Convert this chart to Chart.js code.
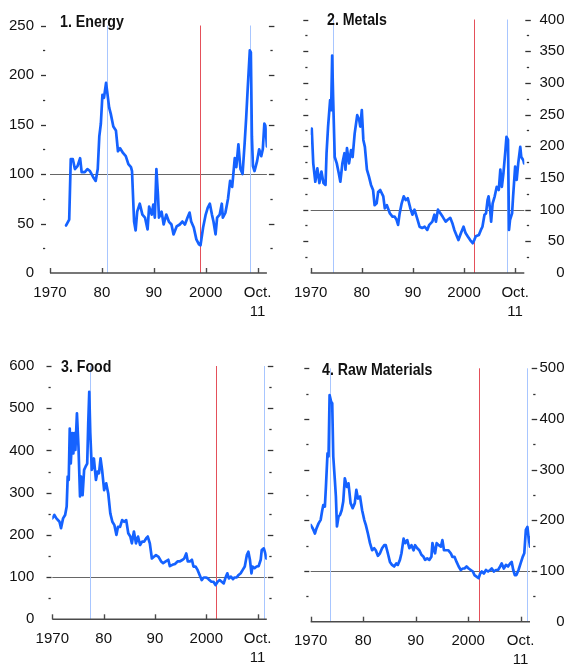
<!DOCTYPE html>
<html>
<head>
<meta charset="utf-8">
<script src="https://cdn.jsdelivr.net/npm/chart.js@4.4.1/dist/chart.umd.min.js"></script>
<style>
  html, body { margin: 0; padding: 0; background: #fff; }
  #wrap { position: relative; width: 565px; height: 664px; overflow: hidden; }
  #wrap canvas { position: absolute; }
  .title {
    position: absolute;
    font-family: "Liberation Sans", Arial, sans-serif;
    font-weight: bold;
    font-size: 16.5px;
    line-height: 1;
    color: #111;
    white-space: nowrap;
    transform: scaleX(0.86);
    transform-origin: 0 0;
  }
</style>
</head>
<body>
<div id="wrap">
  <canvas id="energyChart" width="282" height="332" style="left:0;top:0"></canvas>
  <canvas id="metalsChart" width="283" height="332" style="left:282px;top:0"></canvas>
  <canvas id="foodChart" width="282" height="332" style="left:0;top:332px"></canvas>
  <canvas id="rawChart" width="283" height="332" style="left:282px;top:332px"></canvas>
  <div class="title" style="left:60px;top:13px">1. Energy</div>
  <div class="title" style="left:327px;top:11px">2. Metals</div>
  <div class="title" style="left:61px;top:358px">3. Food</div>
  <div class="title" style="left:322px;top:361px">4. Raw Materials</div>
</div>
<script>
// x axis (years), shared by all four panels
const X_START = 1970;
const X_END = 2011.79; // Oct. 2011
const xTickValues = [1970, 1980, 1990, 2000, 2010];
const xTickLabels = ["1970", "80", "90", "2000", ["Oct.", "11"]];
const REFERENCE_LEVEL = 100;

// 1. Energy
const energyYears = [
    1973.1, 1973.7, 1974.0, 1974.4, 1974.8, 1975.3, 1975.8, 1976.1, 1976.7, 1977.2,
    1977.7, 1978.3, 1978.8, 1979.2, 1979.5, 1979.8, 1980.1, 1980.4, 1980.8, 1981.0,
    1981.4, 1981.7, 1982.2, 1982.7, 1983.1, 1983.5, 1984.1, 1984.6, 1985.1, 1985.6,
    1985.8, 1986.2, 1986.5, 1986.8, 1987.3, 1987.8, 1988.3, 1988.8, 1989.1, 1989.6,
    1989.9, 1990.2, 1990.5, 1990.8, 1991.0, 1991.5, 1991.9, 1992.4, 1992.9, 1993.4,
    1993.8, 1994.4, 1995.0, 1995.5, 1996.0, 1996.5, 1996.9, 1997.2, 1997.7, 1998.2,
    1998.7, 1999.0, 1999.5, 2000.0, 2000.4, 2000.8, 2001.2, 2001.5, 2001.9, 2002.2,
    2002.7, 2003.1, 2003.3, 2003.8, 2004.3, 2004.7, 2005.1, 2005.6, 2005.9, 2006.3,
    2006.7, 2007.1, 2007.5, 2007.8, 2008.1, 2008.5, 2008.7, 2008.9, 2009.1, 2009.4,
    2009.9, 2010.3, 2010.7, 2011.0, 2011.3, 2011.5, 2011.8
];
const energyValues = [
    48, 54, 115, 115, 105, 108, 116, 102, 102, 105,
    103, 97, 93, 105, 138, 151, 180, 177, 192, 184,
    167, 161, 148, 144, 123, 126, 121, 118, 110, 107,
    103, 52, 43, 62, 70, 59, 56, 44, 67, 59,
    69, 56, 105, 79, 56, 62, 49, 59, 52, 49,
    39, 47, 49, 52, 49, 56, 61, 52, 46, 34,
    29, 28, 46, 59, 66, 70, 59, 52, 39, 56,
    59, 70, 56, 61, 75, 93, 87, 116, 107, 130,
    105, 100, 131, 157, 187, 225, 223, 138, 108, 103,
    113, 125, 118, 125, 151, 149, 128
];
const energyPeaks = [1981.0, 2008.55];
const energyTroughs = [1998.95];

// 2. Metals
const metalsYears = [
    1970.0, 1970.2, 1970.5, 1970.9, 1971.3, 1971.7, 1972.1, 1972.5, 1972.9, 1973.1,
    1973.4, 1973.8, 1974.0, 1974.2, 1974.4, 1974.7, 1975.1, 1975.5, 1975.8, 1976.2,
    1976.6, 1976.8, 1977.1, 1977.5, 1977.9, 1978.2, 1978.6, 1979.1, 1979.5, 1979.7,
    1980.0, 1980.3, 1980.6, 1981.0, 1981.4, 1981.8, 1982.2, 1982.5, 1982.9, 1983.2,
    1983.6, 1984.2, 1984.5, 1984.9, 1985.5, 1986.0, 1986.4, 1986.8, 1987.1, 1987.4,
    1987.8, 1988.2, 1988.6, 1989.0, 1989.5, 1989.9, 1990.3, 1990.8, 1991.3, 1991.8,
    1992.3, 1992.8, 1993.2, 1993.8, 1994.2, 1994.5, 1994.9, 1995.4, 1995.8, 1996.4,
    1996.8, 1997.3, 1997.7, 1998.1, 1998.6, 1998.9, 1999.4, 1999.9, 2000.3, 2000.7,
    2001.2, 2001.7, 2002.0, 2002.3, 2002.9, 2003.3, 2003.6, 2004.0, 2004.3, 2004.6,
    2004.8, 2005.1, 2005.3, 2005.6, 2006.0, 2006.4, 2006.8, 2007.1, 2007.4, 2007.7,
    2008.1, 2008.3, 2008.6, 2008.8, 2009.0, 2009.4, 2009.6, 2010.0, 2010.3, 2010.6,
    2011.0, 2011.2, 2011.6, 2011.75
];
const metalsValues = [
    220, 228, 173, 144, 165, 142, 160, 142, 139, 189,
    231, 273, 257, 343, 273, 183, 173, 157, 144, 173,
    189, 163, 197, 173, 194, 183, 220, 249, 241, 231,
    257, 210, 199, 163, 152, 139, 131, 107, 110, 128,
    131, 121, 102, 107, 94, 89, 89, 84, 76, 94,
    110, 121, 115, 118, 102, 92, 100, 87, 73, 71,
    73, 68, 76, 81, 92, 81, 100, 94, 89, 81,
    84, 87, 79, 68, 58, 52, 63, 73, 63, 58,
    52, 47, 52, 58, 60, 68, 73, 92, 94, 115,
    121, 100, 81, 110, 121, 136, 131, 163, 136, 157,
    194, 215, 210, 68, 84, 94, 121, 168, 147, 173,
    199, 183, 178, 173
];
const metalsPeaks = [1974.3, 2008.45];
const metalsTroughs = [2002.0];

// 3. Food
const foodYears = [
    1970.0, 1970.4, 1970.8, 1971.4, 1971.7, 1972.1, 1972.5, 1972.8, 1973.0, 1973.2,
    1973.4, 1973.6, 1973.9, 1974.1, 1974.3, 1974.5, 1974.8, 1975.1, 1975.4, 1975.6,
    1975.9, 1976.2, 1976.5, 1976.8, 1977.0, 1977.2, 1977.4, 1977.7, 1978.1, 1978.5,
    1978.8, 1979.1, 1979.4, 1979.7, 1980.1, 1980.5, 1980.9, 1981.3, 1981.7, 1982.1,
    1982.5, 1982.8, 1983.2, 1983.6, 1984.0, 1984.4, 1984.8, 1985.2, 1985.5, 1985.9,
    1986.3, 1986.7, 1987.1, 1987.5, 1987.9, 1988.3, 1988.6, 1989.0, 1989.4, 1989.8,
    1990.2, 1990.7, 1991.2, 1991.6, 1992.1, 1992.6, 1992.9, 1993.4, 1993.9, 1994.4,
    1994.8, 1995.4, 1995.7, 1996.1, 1996.4, 1996.8, 1997.2, 1997.5, 1997.9, 1998.3,
    1998.7, 1999.1, 1999.5, 1999.9, 2000.3, 2000.6, 2001.0, 2001.4, 2001.8, 2002.2,
    2002.6, 2003.0, 2003.4, 2003.7, 2004.1, 2004.4, 2004.8, 2005.2, 2005.5, 2005.9,
    2006.3, 2006.7, 2007.1, 2007.5, 2007.9, 2008.2, 2008.5, 2008.8, 2009.0, 2009.4,
    2009.8, 2010.2, 2010.6, 2010.8, 2011.2, 2011.5, 2011.7
];
const foodValues = [
    239, 247, 239, 231, 216, 239, 247, 267, 338, 330,
    452, 369, 441, 393, 441, 401, 488, 409, 291, 338,
    294, 354, 362, 369, 464, 539, 441, 354, 381, 330,
    350, 346, 381, 354, 306, 322, 298, 251, 231, 223,
    200, 219, 219, 235, 231, 235, 204, 196, 180, 208,
    180, 196, 176, 184, 184, 192, 196, 180, 144, 148,
    152, 148, 137, 133, 137, 141, 126, 129, 131, 137,
    137, 141, 144, 156, 137, 137, 141, 125, 125, 117,
    105, 93, 99, 99, 97, 93, 89, 89, 81, 89,
    93, 89, 85, 97, 109, 97, 101, 95, 99, 99,
    105, 109, 117, 125, 152, 160, 141, 109, 125, 121,
    125, 126, 141, 164, 168, 156, 144
];
const foodPeaks = [1977.3, 2011.2];
const foodTroughs = [2001.95];

// 4. Raw Materials
const rawYears = [
    1970.0, 1970.4, 1970.8, 1971.1, 1971.5, 1971.9, 1972.2, 1972.4, 1972.7, 1972.9,
    1973.2, 1973.4, 1973.6, 1973.9, 1974.1, 1974.3, 1974.6, 1974.8, 1975.0, 1975.3,
    1975.6, 1975.9, 1976.2, 1976.5, 1976.9, 1977.2, 1977.6, 1978.0, 1978.4, 1978.7,
    1979.0, 1979.4, 1979.8, 1980.2, 1980.5, 1980.9, 1981.3, 1981.7, 1982.1, 1982.4,
    1982.8, 1983.2, 1983.6, 1984.0, 1984.3, 1984.7, 1985.1, 1985.5, 1985.9, 1986.3,
    1986.6, 1987.0, 1987.3, 1987.7, 1988.0, 1988.4, 1988.8, 1989.2, 1989.6, 1989.9,
    1990.3, 1990.7, 1991.1, 1991.5, 1991.8, 1992.2, 1992.6, 1993.0, 1993.2, 1993.5,
    1993.7, 1994.0, 1994.4, 1994.8, 1995.1, 1995.4, 1995.8, 1996.2, 1996.7, 1997.0,
    1997.4, 1997.8, 1998.2, 1998.6, 1999.0, 1999.3, 1999.7, 2000.1, 2000.5, 2000.9,
    2001.2, 2001.6, 2002.0, 2002.3, 2002.6, 2003.0, 2003.4, 2003.8, 2004.2, 2004.5,
    2004.9, 2005.3, 2005.7, 2006.1, 2006.4, 2006.8, 2007.2, 2007.6, 2008.0, 2008.3,
    2008.6, 2008.9, 2009.2, 2009.6, 2010.0, 2010.4, 2010.7, 2011.0, 2011.3, 2011.5,
    2011.8
];
const rawValues = [
    191, 184, 174, 184, 194, 201, 220, 230, 227, 266,
    332, 326, 447, 434, 431, 326, 280, 247, 188, 207,
    211, 220, 237, 283, 266, 273, 234, 224, 234, 260,
    243, 247, 220, 201, 191, 174, 155, 141, 145, 141,
    130, 135, 145, 151, 151, 135, 118, 112, 109, 115,
    112, 122, 135, 164, 155, 161, 145, 151, 141, 151,
    145, 141, 132, 128, 122, 125, 122, 128, 155, 141,
    135, 155, 151, 148, 161, 141, 141, 141, 135, 128,
    128, 118, 109, 102, 105, 105, 109, 105, 102, 99,
    92, 89, 86, 95, 99, 95, 102, 99, 102, 105,
    99, 102, 102, 109, 115, 105, 112, 109, 115, 118,
    102, 92, 92, 102, 115, 128, 135, 181, 187, 168,
    148
];
const rawPeaks = [1973.68, 2011.16];
const rawTroughs = [2002.1];

const LINE_BLUE = "#1562ff";
const PEAK_BLUE = "#a8c6ff";
const TROUGH_RED = "#e4505a";
const AXIS_GREY = "#4a4a4a";
const REF_GREY = "#666666";
const FONT_FAMILY = '"Liberation Sans", Arial, sans-serif';

function strokeLine(ctx, x1, y1, x2, y2) {
    ctx.beginPath();
    ctx.moveTo(x1, y1);
    ctx.lineTo(x2, y2);
    ctx.stroke();
}

// reference line, peak / trough markers, axis line and tick dashes
const guidePlugin = {
    id: "guides",
    beforeDatasetsDraw(chart, args, opts) {
        const { ctx, chartArea: a, scales: { x, y } } = chart;
        ctx.save();
        ctx.lineWidth = 1;

        ctx.strokeStyle = REF_GREY;
        const yRef = Math.round(y.getPixelForValue(REFERENCE_LEVEL)) + 0.5;
        strokeLine(ctx, a.left, yRef, a.right, yRef);

        ctx.strokeStyle = PEAK_BLUE;
        opts.peaks.forEach(v => {
            const px = Math.round(x.getPixelForValue(v)) + 0.5;
            strokeLine(ctx, px, a.top, px, a.bottom);
        });
        ctx.strokeStyle = TROUGH_RED;
        opts.troughs.forEach(v => {
            const px = Math.round(x.getPixelForValue(v)) + 0.5;
            strokeLine(ctx, px, a.top, px, a.bottom);
        });
        ctx.restore();
    },
    afterDraw(chart, args, opts) {
        const { ctx, chartArea: a, scales: { x, y } } = chart;
        ctx.save();
        ctx.strokeStyle = AXIS_GREY;

        // x axis line with upward ticks
        ctx.lineWidth = 1.6;
        strokeLine(ctx, a.left, a.bottom, a.right, a.bottom);
        ctx.lineWidth = 1.4;
        x.ticks.forEach(t => {
            const px = Math.round(x.getPixelForValue(t.value)) + 0.5;
            strokeLine(ctx, px, a.bottom, px, a.bottom - 5);
        });

        // small dashes on both sides of the plot
        ctx.strokeStyle = "#333";
        ctx.lineWidth = 1.3;
        y.ticks.forEach(t => {
            if (t.value === 0) return;
            const py = Math.round(y.getPixelForValue(t.value)) + 0.5;
            const major = t.value % opts.majorStep === 0;
            const le = a.left + opts.leftEnd;
            const rs = a.right + opts.rightStart;
            if (major) {
                strokeLine(ctx, le - 5, py, le, py);
                strokeLine(ctx, rs, py, rs + 5.5, py);
            } else {
                strokeLine(ctx, le - 3, py, le - 0.8, py);
                strokeLine(ctx, rs + 1.5, py, rs + 3.8, py);
            }
        });
        ctx.restore();
    }
};

function buildPanel(canvasId, panel) {
    const tickFont = { family: FONT_FAMILY, size: 15, lineHeight: 1.27 };
    return new Chart(document.getElementById(canvasId), {
        type: "line",
        data: {
            datasets: [{
                data: panel.years.map((yr, i) => ({ x: yr, y: panel.values[i] })),
                borderColor: LINE_BLUE,
                borderWidth: 2.7,
                pointRadius: 0,
                tension: 0,
                borderJoinStyle: "round",
                borderCapStyle: "round"
            }]
        },
        options: {
            responsive: false,
            animation: false,
            events: [],
            layout: { padding: panel.padding },
            plugins: {
                legend: { display: false },
                tooltip: { enabled: false },
                guides: {
                    peaks: panel.peaks,
                    troughs: panel.troughs,
                    majorStep: panel.majorStep,
                    leftEnd: panel.leftEnd,
                    rightStart: panel.rightStart
                }
            },
            scales: {
                x: {
                    type: "linear",
                    min: X_START,
                    max: X_END,
                    afterBuildTicks: s => { s.ticks = xTickValues.map(v => ({ value: v })); },
                    afterFit: s => { s.height = panel.xHeight; },
                    grid: { display: false, drawTicks: false },
                    border: { display: false },
                    ticks: {
                        autoSkip: false,
                        maxRotation: 0,
                        padding: 10,
                        color: "#111",
                        font: tickFont,
                        callback: (v, i) => xTickLabels[i]
                    }
                },
                y: {
                    position: panel.yPosition,
                    min: 0,
                    max: panel.yMax,
                    afterBuildTicks: s => {
                        const ticks = [];
                        for (let v = 0; v <= panel.yMax; v += panel.minorStep) ticks.push({ value: v });
                        s.ticks = ticks;
                    },
                    afterFit: s => { s.width = panel.yWidth; },
                    grid: { display: false, drawTicks: false },
                    border: { display: false },
                    ticks: {
                        autoSkip: false,
                        padding: panel.yPadding,
                        crossAlign: panel.yPosition === "right" ? "far" : "near",
                        color: "#111",
                        font: tickFont,
                        callback: v => (v % panel.majorStep === 0 ? String(v) : "")
                    }
                }
            }
        },
        plugins: [guidePlugin]
    });
}

buildPanel("energyChart", {
    years: energyYears, values: energyValues, peaks: energyPeaks, troughs: energyTroughs,
    yMax: 250, majorStep: 50, minorStep: 25, yPosition: "left",
    padding: { left: 0, right: 15, top: 19, bottom: 0 },
    yWidth: 50, yPadding: 16, xHeight: 59, leftEnd: -4, rightStart: 2
});

buildPanel("metalsChart", {
    years: metalsYears, values: metalsValues, peaks: metalsPeaks, troughs: metalsTroughs,
    yMax: 400, majorStep: 50, minorStep: 25, yPosition: "right",
    padding: { left: 28.7, right: 0.5, top: 19, bottom: 0 },
    yWidth: 40.2, yPadding: 10, xHeight: 59, leftEnd: -2.4, rightStart: 1
});

buildPanel("foodChart", {
    years: foodYears, values: foodValues, peaks: foodPeaks, troughs: foodTroughs,
    yMax: 600, majorStep: 100, minorStep: 50, yPosition: "left",
    padding: { left: 0, right: 14.7, top: 34, bottom: 0 },
    yWidth: 52.3, yPadding: 18, xHeight: 44.7, leftEnd: -0.8, rightStart: 1
});

buildPanel("rawChart", {
    years: rawYears, values: rawValues, peaks: rawPeaks, troughs: rawTroughs,
    yMax: 500, majorStep: 100, minorStep: 50, yPosition: "right",
    padding: { left: 28.7, right: 0.5, top: 36.3, bottom: 0 },
    yWidth: 34.5, yPadding: 8, xHeight: 42.3, leftEnd: -1.4, rightStart: 1.7
});
</script>
</body>
</html>
